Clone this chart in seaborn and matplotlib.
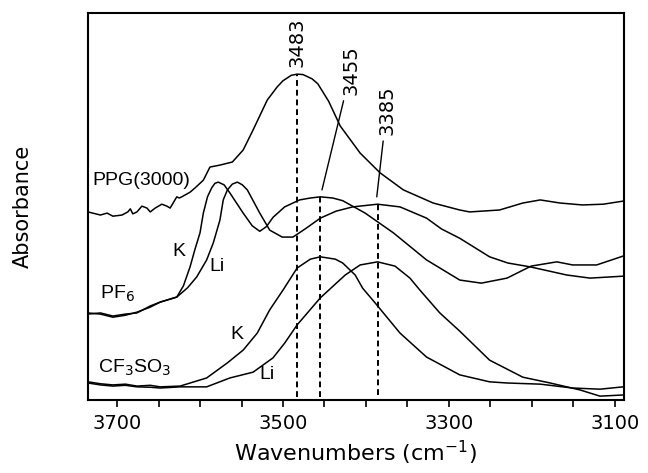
import matplotlib
matplotlib.use('Agg')
import matplotlib.pyplot as plt
from matplotlib.ticker import MultipleLocator
import seaborn as sns

# PPG(3000) spectrum
ppg_wn = [3735, 3720, 3712, 3705, 3694, 3687, 3684, 3681, 3676, 3670, 3664, 3660,
          3654, 3646, 3640, 3636, 3628, 3625, 3622, 3612, 3606, 3602, 3596, 3588,
          3576, 3561, 3548, 3536, 3519, 3507, 3500, 3490, 3483, 3476, 3465, 3458,
          3445, 3431, 3407, 3383, 3355, 3319, 3287, 3275, 3239, 3211, 3190, 3166,
          3139, 3114, 3090]
ppg_abs = [0.486, 0.478, 0.483, 0.475, 0.478, 0.486, 0.494, 0.481, 0.486, 0.501, 0.496, 0.486,
           0.496, 0.506, 0.501, 0.496, 0.525, 0.522, 0.525, 0.537, 0.548, 0.556, 0.568, 0.602,
           0.607, 0.615, 0.646, 0.698, 0.775, 0.809, 0.825, 0.839, 0.842, 0.841, 0.830, 0.817,
           0.772, 0.708, 0.638, 0.587, 0.543, 0.509, 0.491, 0.486, 0.491, 0.509, 0.517, 0.509,
           0.504, 0.506, 0.514]

# PF6 salts
pf6_k_wn = [3735, 3720, 3705, 3690, 3676, 3660, 3648, 3628, 3620, 3612, 3606, 3600,
            3596, 3591, 3586, 3582, 3578, 3571, 3564, 3556, 3548, 3537, 3528, 3520,
            3512, 3498, 3480, 3467, 3455, 3440, 3428, 3401, 3367, 3327, 3287, 3261,
            3230, 3201, 3170, 3151, 3122, 3090]
pf6_k_abs = [0.225, 0.222, 0.214, 0.219, 0.227, 0.240, 0.253, 0.266, 0.295, 0.344, 0.390, 0.432,
             0.483, 0.525, 0.548, 0.560, 0.563, 0.556, 0.535, 0.509, 0.483, 0.450, 0.436, 0.448,
             0.472, 0.499, 0.517, 0.522, 0.525, 0.522, 0.515, 0.483, 0.432, 0.362, 0.310, 0.302,
             0.315, 0.346, 0.357, 0.349, 0.349, 0.372]
pf6_li_wn = [3735, 3720, 3705, 3690, 3676, 3660, 3648, 3628, 3615, 3604, 3592, 3584,
             3576, 3572, 3567, 3561, 3555, 3549, 3543, 3528, 3516, 3501, 3488, 3472,
             3455, 3436, 3416, 3386, 3359, 3327, 3309, 3287, 3251, 3229, 3202, 3158, 3130, 3090]
pf6_li_abs = [0.222, 0.225, 0.217, 0.222, 0.225, 0.243, 0.253, 0.266, 0.290, 0.318, 0.362, 0.406,
              0.465, 0.517, 0.543, 0.558, 0.563, 0.556, 0.543, 0.483, 0.439, 0.421, 0.421, 0.444,
              0.470, 0.488, 0.499, 0.506, 0.499, 0.470, 0.442, 0.418, 0.370, 0.354, 0.344, 0.323, 0.315, 0.320]

# CF3SO3 salts
cf_k_wn = [3735, 3720, 3705, 3690, 3676, 3660, 3648, 3624, 3592, 3567, 3548, 3531,
           3516, 3500, 3483, 3467, 3455, 3437, 3428, 3413, 3404, 3389, 3359, 3327,
           3287, 3251, 3230, 3190, 3151, 3118, 3090]
cf_k_abs = [0.047, 0.042, 0.039, 0.041, 0.036, 0.038, 0.034, 0.036, 0.057, 0.096, 0.129, 0.173,
            0.233, 0.284, 0.341, 0.364, 0.370, 0.364, 0.354, 0.323, 0.289, 0.251, 0.173, 0.111,
            0.065, 0.047, 0.044, 0.041, 0.031, 0.028, 0.034]
cf_li_wn = [3735, 3720, 3705, 3690, 3676, 3660, 3648, 3624, 3592, 3564, 3536, 3512,
            3498, 3483, 3455, 3425, 3407, 3386, 3365, 3347, 3335, 3311, 3287, 3251,
            3211, 3178, 3142, 3118, 3090]
cf_li_abs = [0.044, 0.039, 0.036, 0.038, 0.034, 0.033, 0.031, 0.034, 0.034, 0.057, 0.072, 0.109,
             0.147, 0.194, 0.264, 0.323, 0.349, 0.357, 0.346, 0.315, 0.284, 0.225, 0.178, 0.103,
             0.059, 0.044, 0.026, 0.010, 0.013]

# marked band positions
peak_wn = [3483, 3455, 3385]
peak_top = [0.842, 0.525, 0.506]
peak_bottom = [0.008, 0.008, 0.013]

sns.set_style('ticks')
plt.rcParams['font.family'] = ['DejaVu Sans']
plt.rcParams['text.color'] = 'black'
plt.rcParams['axes.labelcolor'] = 'black'
plt.rcParams['xtick.color'] = 'black'
plt.rcParams['axes.edgecolor'] = 'black'

fig = plt.figure(figsize=(6.48, 4.73), dpi=100)
ax = fig.add_axes([0.1358, 0.1543, 0.8272, 0.8182])

for wn, ab in [(ppg_wn, ppg_abs), (pf6_k_wn, pf6_k_abs), (pf6_li_wn, pf6_li_abs),
               (cf_k_wn, cf_k_abs), (cf_li_wn, cf_li_abs)]:
    sns.lineplot(x=wn, y=ab, ax=ax, color='black', lw=1.1, sort=False, estimator=None)

ax.vlines(peak_wn, peak_bottom, peak_top, colors='black', lw=1.4, linestyles=(0, (3, 2)))

num_font = dict(family=['Liberation Sans Narrow', 'DejaVu Sans'], fontsize=14, rotation=90)
ax.text(3483, 0.925, '3483', ha='center', va='center', **num_font)
ax.annotate('3455', xy=(3453, 0.543), xytext=(3418, 0.853), ha='center', va='center',
            arrowprops=dict(arrowstyle='-', lw=1, color='black', shrinkA=2, shrinkB=0), **num_font)
ax.annotate('3385', xy=(3387, 0.525), xytext=(3375, 0.749), ha='center', va='center',
            arrowprops=dict(arrowstyle='-', lw=1, color='black', shrinkA=2, shrinkB=0), **num_font)

lab = dict(family='Liberation Sans', fontsize=14, va='center')
ax.text(3730, 0.566, 'PPG(3000)', ha='left', **lab)
ax.text(3626, 0.385, 'K', ha='center', **lab)
ax.text(3580, 0.346, 'Li', ha='center', **lab)
ax.text(3720, 0.274, 'PF$_6$', ha='left', **lab)
ax.text(3555, 0.168, 'K', ha='center', **lab)
ax.text(3519, 0.065, 'Li', ha='center', **lab)
ax.text(3723, 0.083, 'CF$_3$SO$_3$', ha='left', **lab)

ax.set_xlim(3735, 3089)
ax.set_ylim(0, 1)
ax.set_xticks([3700, 3500, 3300, 3100])
ax.xaxis.set_minor_locator(MultipleLocator(50))
ax.set_yticks([])
ax.tick_params(axis='x', which='both', direction='out', length=5, width=1.2,
               labelsize=14, pad=5)
for s in ax.spines.values():
    s.set_linewidth(1.5)
    s.set_visible(True)

ax.set_xlabel('Wavenumbers (cm$^{-1}$)', fontsize=16, labelpad=4)
ax.set_ylabel('Absorbance', fontsize=15, labelpad=40)

plt.savefig('out.png', dpi=100)
